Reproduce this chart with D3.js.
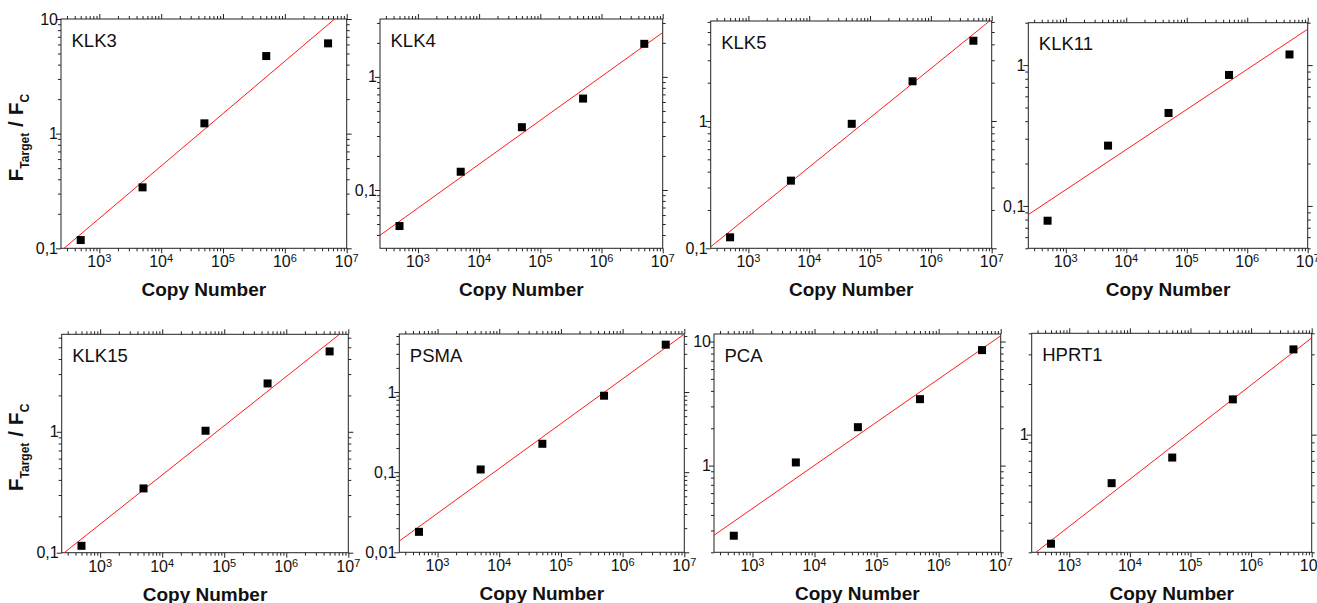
<!DOCTYPE html>
<html>
<head>
<meta charset="utf-8">
<script src="https://cdn.jsdelivr.net/npm/d3@7"></script>
<style>
  body { margin: 0; background: #fff; }
  text { font-family: "Liberation Sans", Arial, sans-serif; }
</style>
</head>
<body>
<div id="chart"></div>
<script>
// gene panels, in reading order
var genes = ["KLK3", "KLK4", "KLK5", "KLK11", "KLK15", "PSMA", "PCA", "HPRT1"];
var copyNumber = [5e2, 5e3, 5e4, 5e5, 5e6];

// F_Target / F_C
var klk3  = [0.118, 0.34, 1.23, 4.75, 6.13];
var klk4  = [0.048, 0.145, 0.359, 0.643, 1.96];
var klk5  = [0.122, 0.34, 0.95, 2.05, 4.27];
var klk11 = [0.0785, 0.268, 0.457, 0.851, 1.19];
var klk15 = [0.114, 0.34, 1.02, 2.51, 4.62];
var psma  = [0.018, 0.108, 0.226, 0.90, 3.9];
var pca   = [0.272, 1.06, 2.04, 3.43, 8.53];
var hprt1 = [0.225, 0.515, 0.731, 1.62, 3.21];
var ratios = [klk3, klk4, klk5, klk11, klk15, psma, pca, hprt1];

// red fit lines: log10(y) = intercept + slope * log10(x)
var fitSlope     = [0.457, 0.388, 0.387, 0.285, 0.407, 0.559, 0.348, 0.280];
var fitIntercept = [-2.11, -2.324, -1.910, -1.74, -1.985, -3.19, -1.39, -1.385];

// axis ranges
var xRange = [240, 1e7];
var yRanges = [[0.1, 10], [0.0305, 3.25], [0.1, 6.1], [0.05, 2],
               [0.1, 6.4], [0.01, 5.3], [0.2, 11.5], [0.2, 4]];

// plot frames: left, top, right, bottom
var frames = [
  [61, 19, 346.7, 248.3], [380, 19, 662.7, 248.3], [710.7, 21, 991.7, 248.3], [1028.3, 22.7, 1307.7, 248.3],
  [61.7, 334.3, 348.3, 552.7], [399.3, 334, 684.3, 552.3], [714, 334, 1000.7, 552.3], [1031.7, 333.3, 1311.7, 552.3]
];

var svg = d3.select("#chart").append("svg")
    .attr("width", 1317)
    .attr("height", 603);

function isMajor(v) {
  var l = Math.log10(v);
  return Math.abs(l - Math.round(l)) < 1e-9;
}

function commaNum(v) {
  return String(+v.toPrecision(6)).replace(".", ",");
}

genes.forEach(function(name, i) {
  var f = frames[i];
  var x = d3.scaleLog().domain(xRange).range([f[0], f[2]]);
  var y = d3.scaleLog().domain(yRanges[i]).range([f[3], f[1]]);

  var g = svg.append("g");

  var xt = x.ticks(), yt = y.ticks();
  var xMaj = xt.filter(isMajor), xMin = xt.filter(function(v) { return !isMajor(v); });
  var yMaj = yt.filter(isMajor), yMin = yt.filter(function(v) { return !isMajor(v); });

  // ticks on all four sides, pointing outward
  function side(axisFn, scale, vals, size, tr) {
    var a = g.append("g")
        .attr("transform", tr)
        .call(axisFn(scale).tickValues(vals).tickSize(size).tickSizeOuter(0).tickFormat(""));
    a.select(".domain").remove();
    a.selectAll("line").attr("stroke", "#222").attr("stroke-width", 1);
  }
  side(d3.axisBottom, x, xMaj, 5, "translate(0," + f[3] + ")");
  side(d3.axisBottom, x, xMin, 3, "translate(0," + f[3] + ")");
  side(d3.axisTop, x, xMaj, 5, "translate(0," + f[1] + ")");
  side(d3.axisTop, x, xMin, 3, "translate(0," + f[1] + ")");
  side(d3.axisLeft, y, yMaj, 5, "translate(" + f[0] + ",0)");
  side(d3.axisLeft, y, yMin, 3, "translate(" + f[0] + ",0)");
  side(d3.axisRight, y, yMaj, 5, "translate(" + f[2] + ",0)");
  side(d3.axisRight, y, yMin, 3, "translate(" + f[2] + ",0)");

  g.append("rect")
      .attr("x", f[0]).attr("y", f[1])
      .attr("width", f[2] - f[0]).attr("height", f[3] - f[1])
      .attr("fill", "none")
      .attr("stroke", "#222")
      .attr("stroke-width", 1);

  // x tick labels 10^n
  var xl = g.append("g").selectAll("text")
    .data(xMaj)
    .join("text")
      .attr("x", function(d) { return x(d); })
      .attr("y", f[3] + 19)
      .attr("text-anchor", "middle")
      .attr("font-size", 16)
      .attr("fill", "#111");
  xl.append("tspan").text("10");
  xl.append("tspan")
      .attr("dy", "-0.45em")
      .attr("font-size", 11)
      .text(function(d) { return Math.round(Math.log10(d)); });

  // y tick labels
  g.append("g").selectAll("text")
    .data(yMaj)
    .join("text")
      .attr("x", f[0] - 3)
      .attr("y", function(d) { return y(d); })
      .attr("dy", "0.35em")
      .attr("text-anchor", "end")
      .attr("font-size", 16)
      .attr("fill", "#111")
      .text(commaNum);

  // fit line, clipped to the frame
  var clipId = "clip" + i;
  svg.append("clipPath").attr("id", clipId)
    .append("rect")
      .attr("x", f[0]).attr("y", f[1])
      .attr("width", f[2] - f[0]).attr("height", f[3] - f[1]);

  var fitEnds = xRange.map(function(v) {
    return [v, Math.pow(10, fitIntercept[i] + fitSlope[i] * Math.log10(v))];
  });
  g.append("path")
      .datum(fitEnds)
      .attr("clip-path", "url(#" + clipId + ")")
      .attr("fill", "none")
      .attr("stroke", "#ff1a1a")
      .attr("stroke-width", 1)
      .attr("d", d3.line()
        .x(function(d) { return x(d[0]); })
        .y(function(d) { return y(d[1]); }));

  // data squares
  var sq = 8;
  g.append("g").selectAll("rect")
    .data(copyNumber.map(function(c, k) { return [c, ratios[i][k]]; }))
    .join("rect")
      .attr("x", function(d) { return x(d[0]) - sq / 2; })
      .attr("y", function(d) { return y(d[1]) - sq / 2; })
      .attr("width", sq)
      .attr("height", sq)
      .attr("fill", "#000");

  // gene name
  g.append("text")
      .attr("x", f[0] + 10.5)
      .attr("y", f[1] + 27.5)
      .attr("font-size", 18.5)
      .attr("fill", "#111")
      .text(name);

  // x title
  g.append("text")
      .attr("x", (f[0] + f[2]) / 2)
      .attr("y", f[3] + 48)
      .attr("text-anchor", "middle")
      .attr("font-size", 19)
      .attr("font-weight", "bold")
      .attr("fill", "#111")
      .text("Copy Number");

  // y title on the first panel of each row
  if (i % 4 === 0) {
    var yt2 = g.append("text")
        .attr("transform", "translate(23," + ((f[1] + f[3]) / 2 + 4) + ") rotate(-90)")
        .attr("text-anchor", "middle")
        .attr("font-weight", "bold")
        .attr("font-size", 21)
        .attr("fill", "#111");
    yt2.append("tspan").text("F");
    yt2.append("tspan").attr("font-size", 12).attr("dy", 6).text("Target");
    yt2.append("tspan").attr("dy", -6).text(" / F");
    yt2.append("tspan").attr("font-size", 12).attr("dy", 6).text("C");
  }
});
</script>
</body>
</html>
